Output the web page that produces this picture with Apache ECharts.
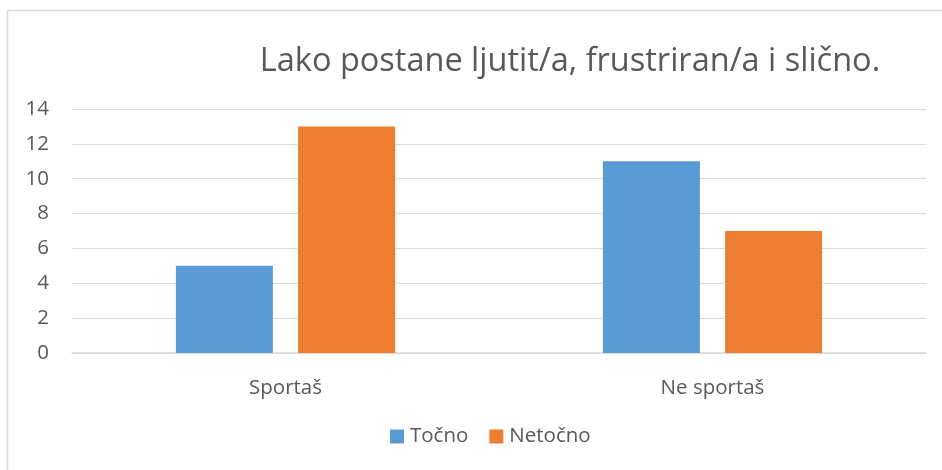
<!DOCTYPE html>
<html><head><meta charset="utf-8">
<script src="https://cdn.jsdelivr.net/npm/echarts@6/dist/echarts.min.js"></script>
<style>html,body{margin:0;padding:0;background:#fff}#c{width:942px;height:470px}</style>
</head><body><div id="c"></div>
<script>
const title = 'Lako postane ljutit/a, frustriran/a i slično.';
const categories = ['Sportaš', 'Ne sportaš'];
const seriesNames = ['Točno', 'Netočno'];
const tocno = [5, 11];
const netocno = [13, 7];
const yTicks = [0, 2, 4, 6, 8, 10, 12, 14];

const FONT = 'Open Sans';
const chart = echarts.init(document.getElementById('c'), null, {renderer: 'canvas'});
chart.setOption({
  animation: false,
  backgroundColor: '#fff',
  graphic: [{
    type: 'rect', shape: {x: 7.5, y: 10.5, width: 960, height: 480},
    style: {fill: 'none', stroke: '#d9d9d9', lineWidth: 1.5}, silent: true
  }],
  title: {
    text: title, left: 565, top: 40, textAlign: 'center',
    textStyle: {fontFamily: FONT, fontSize: 32.5, fontWeight: 'normal', color: '#595959'}
  },
  legend: {
    data: seriesNames, bottom: 18, left: 385, itemWidth: 14, itemHeight: 14, itemGap: 21,
    icon: 'rect',
    textStyle: {fontFamily: FONT, fontSize: 20.5, color: '#595959', padding: [0, 0, 0, 1]}
  },
  grid: {left: 72, right: 16, top: 109, bottom: 117},
  xAxis: {
    type: 'category', data: categories,
    axisLine: {lineStyle: {color: '#d9d9d9', width: 1.5}},
    axisTick: {show: false},
    axisLabel: {fontFamily: FONT, fontSize: 20.5, color: '#595959', margin: 25}
  },
  yAxis: {
    type: 'value', min: yTicks[0], max: yTicks[yTicks.length - 1], interval: 2,
    axisLine: {show: false}, axisTick: {show: false},
    splitLine: {lineStyle: {color: '#d9d9d9', width: 1}},
    axisLabel: {fontFamily: FONT, fontSize: 20.5, color: '#595959', margin: 23}
  },
  series: [
    {name: seriesNames[0], type: 'bar', data: tocno, barWidth: 97, barGap: '26%', itemStyle: {color: '#5B9BD5'}},
    {name: seriesNames[1], type: 'bar', data: netocno, barWidth: 97, barGap: '26%', itemStyle: {color: '#ED7D31'}}
  ]
});
</script></body></html>
